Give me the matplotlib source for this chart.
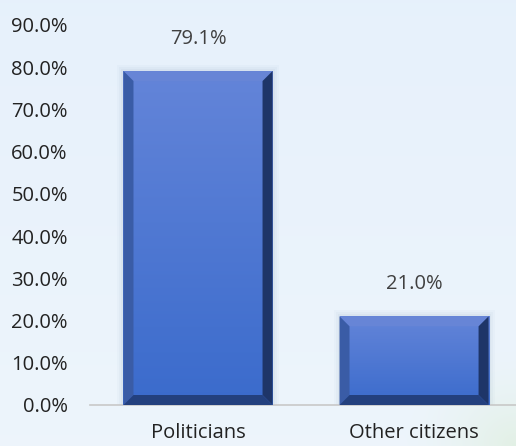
import numpy as np
import matplotlib
matplotlib.use("Agg")
import matplotlib.pyplot as plt
from matplotlib.patches import Polygon
from matplotlib.ticker import FuncFormatter

categories = ["Politicians", "Other citizens"]
values = [79.1, 21.0]
yticks = [0, 10, 20, 30, 40, 50, 60, 70, 80, 90]

plt.rcParams["font.family"] = ["Open Sans", "DejaVu Sans"]

W, H, DPI = 516, 446, 100
fig = plt.figure(figsize=(W / DPI, H / DPI), dpi=DPI)

# soft blue page background with a faint green wash in the lower right corner
bg = fig.add_axes([0, 0, 1, 1], zorder=-10)
yy, xx = np.mgrid[0:1:446j, 0:1:516j]
top = np.array([0.905, 0.945, 0.985])
bot = np.array([0.93, 0.96, 0.985])
img = top + (bot - top) * yy[..., None]
green = np.array([0.86, 0.93, 0.84])
r = np.sqrt(((xx - 1.0) / 0.22) ** 2 + ((yy - 1.0) / 0.22) ** 2)
wgt = np.clip(1 - r, 0, 1) ** 1.5 * 0.6
img = img * (1 - wgt[..., None]) + green * wgt[..., None]
bg.imshow(img, extent=[0, 1, 0, 1], aspect="auto", origin="upper")
bg.set_xlim(0, 1)
bg.set_ylim(0, 1)
bg.axis("off")

ax = fig.add_axes([90 / W, (H - 405) / H, 426 / W, 380 / H])
ax.patch.set_alpha(0)
ax.set_xlim(-0.5, 1.472)
ax.set_ylim(0, 90)

bar_w = 0.69
px_x = 1 / 216.0          # data units per pixel (x)
px_y = 90 / 380.0         # data units per pixel (y)
bev = 10                  # bevel size in pixels
bx, by = bev * px_x, bev * px_y

bars = ax.bar(range(len(values)), values, width=bar_w, color="#4a74d0",
              edgecolor="none", zorder=2)

for rect in bars:
    x0, y0 = rect.get_x(), rect.get_y()
    x1, y1 = x0 + rect.get_width(), y0 + rect.get_height()
    # soft drop shadow
    for i, a in enumerate([0.05, 0.04, 0.03]):
        d = (i + 1) * 2
        ax.add_patch(Polygon([(x0 - d * px_x, y0), (x1 + d * px_x, y0),
                              (x1 + d * px_x, y1 + d * px_y), (x0 - d * px_x, y1 + d * px_y)],
                             closed=True, color="#6080a0", alpha=a, lw=0, zorder=1))
    # face gradient
    face = np.linspace(0, 1, 128).reshape(-1, 1)
    c_top = np.array([0.39, 0.52, 0.85])
    c_bot = np.array([0.23, 0.42, 0.80])
    fimg = c_top + (c_bot - c_top) * face[..., None]
    im = ax.imshow(fimg, extent=[x0, x1, y0, y1], aspect="auto", origin="upper", zorder=3)
    im.set_clip_path(rect)
    # bevel edges
    ax.add_patch(Polygon([(x0, y1), (x1, y1), (x1 - bx, y1 - by), (x0 + bx, y1 - by)],
                         closed=True, color="#6785d6", lw=0, zorder=4))
    ax.add_patch(Polygon([(x0, y0), (x0, y1), (x0 + bx, y1 - by), (x0 + bx, y0 + by)],
                         closed=True, color="#3a5ca6", lw=0, zorder=4))
    ax.add_patch(Polygon([(x1, y0), (x1, y1), (x1 - bx, y1 - by), (x1 - bx, y0 + by)],
                         closed=True, color="#1e3568", lw=0, zorder=4))
    ax.add_patch(Polygon([(x0, y0), (x1, y0), (x1 - bx, y0 + by), (x0 + bx, y0 + by)],
                         closed=True, color="#23407e", lw=0, zorder=4))

for i, v in enumerate(values):
    ax.annotate(f"{v:.1f}%", (i, v), xytext=(0, 16), textcoords="offset points",
                ha="center", va="bottom", fontsize=14.5, color="#404040")

ax.set_yticks(yticks)
ax.yaxis.set_major_formatter(FuncFormatter(lambda v, p: f"{v:.1f}%"))
ax.set_xticks(range(len(categories)))
ax.set_xticklabels(categories)
ax.tick_params(axis="both", length=0, labelsize=14.5, colors="#222222")
ax.tick_params(axis="y", pad=16)
ax.tick_params(axis="x", pad=13)
for s in ["top", "right", "left"]:
    ax.spines[s].set_visible(False)
ax.spines["bottom"].set_color("#c8c8c8")
ax.spines["bottom"].set_linewidth(1.2)

fig.savefig("out.png", dpi=DPI)
